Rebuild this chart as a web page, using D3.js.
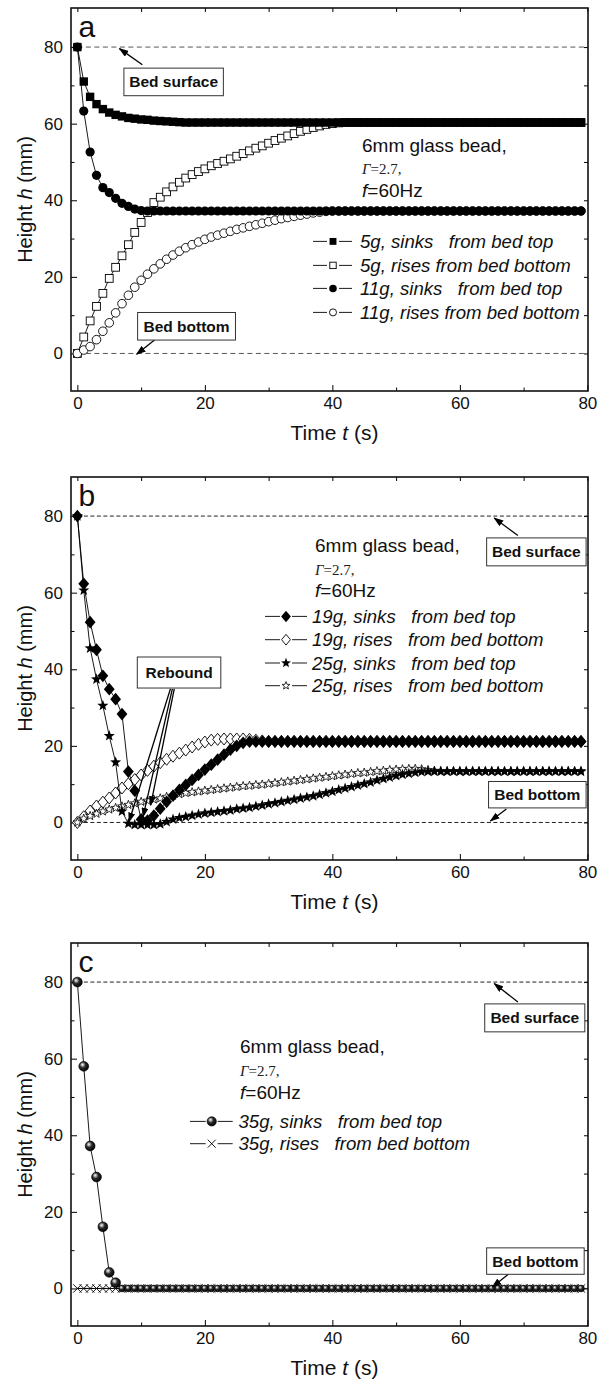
<!DOCTYPE html>
<html>
<head>
<meta charset="utf-8">
<script src="https://cdn.jsdelivr.net/npm/d3@7/dist/d3.min.js"></script>
<style>
html, body { margin: 0; padding: 0; background: #fff; }
svg { display: block; font-family: "Liberation Sans", Arial, sans-serif; }
</style>
</head>
<body>
<script>
// sampling times (s), one reading per second
var seconds = [
    0, 1, 2, 3, 4, 5, 6, 7, 8, 9,
    10, 11, 12, 13, 14, 15, 16, 17, 18, 19,
    20, 21, 22, 23, 24, 25, 26, 27, 28, 29,
    30, 31, 32, 33, 34, 35, 36, 37, 38, 39,
    40, 41, 42, 43, 44, 45, 46, 47, 48, 49,
    50, 51, 52, 53, 54, 55, 56, 57, 58, 59,
    60, 61, 62, 63, 64, 65, 66, 67, 68, 69,
    70, 71, 72, 73, 74, 75, 76, 77, 78, 79
];

var xTicks = [0, 20, 40, 60, 80],
    xMinor = [10, 30, 50, 70],
    yTicks = [0, 20, 40, 60, 80],
    yMinor = [10, 30, 50, 70];

// panel a
var a5gSinks = [
    80, 71, 67, 65.1, 63.8, 62.9, 62.3, 61.9, 61.5, 61.3,
    61.1, 61.0, 60.8, 60.7, 60.6, 60.5, 60.4, 60.3, 60.3, 60.3,
    60.3, 60.3, 60.3, 60.3, 60.3, 60.3, 60.3, 60.3, 60.3, 60.3,
    60.3, 60.3, 60.3, 60.3, 60.3, 60.3, 60.3, 60.3, 60.3, 60.3,
    60.3, 60.3, 60.3, 60.3, 60.3, 60.3, 60.3, 60.3, 60.3, 60.3,
    60.3, 60.3, 60.3, 60.3, 60.3, 60.3, 60.3, 60.3, 60.3, 60.3,
    60.3, 60.3, 60.3, 60.3, 60.3, 60.3, 60.3, 60.3, 60.3, 60.3,
    60.3, 60.3, 60.3, 60.3, 60.3, 60.3, 60.3, 60.3, 60.3, 60.3
];
var a5gRises = [
    0, 4.3, 8.5, 12.3, 15.7, 19.6, 22.5, 25.5, 28.4, 31.6,
    34.2, 36.8, 39.4, 40.8, 42.2, 43.5, 44.7, 45.8, 46.7, 47.5,
    48.2, 49.0, 49.6, 50.2, 50.8, 51.5, 52.2, 52.9, 53.6, 54.2,
    54.9, 55.6, 56.2, 56.8, 57.4, 58.0, 58.5, 59.0, 59.4, 59.8,
    60.0, 60.2, 60.3, 60.3, 60.3, 60.3, 60.3, 60.3, 60.3, 60.3,
    60.3, 60.3, 60.3, 60.3, 60.3, 60.3, 60.3, 60.3, 60.3, 60.3,
    60.3, 60.3, 60.3, 60.3, 60.3, 60.3, 60.3, 60.3, 60.3, 60.3,
    60.3, 60.3, 60.3, 60.3, 60.3, 60.3, 60.3, 60.3, 60.3, 60.3
];
var a11gSinks = [
    80, 63.3, 52.6, 46.5, 43.3, 42.0, 40.5, 39.2, 38.4, 37.7,
    37.3, 37.2, 37.2, 37.2, 37.2, 37.2, 37.2, 37.2, 37.2, 37.2,
    37.2, 37.2, 37.2, 37.2, 37.2, 37.2, 37.2, 37.2, 37.2, 37.2,
    37.2, 37.2, 37.2, 37.2, 37.2, 37.2, 37.2, 37.2, 37.2, 37.2,
    37.2, 37.2, 37.2, 37.2, 37.2, 37.2, 37.2, 37.2, 37.2, 37.2,
    37.2, 37.2, 37.2, 37.2, 37.2, 37.2, 37.2, 37.2, 37.2, 37.2,
    37.2, 37.2, 37.2, 37.2, 37.2, 37.2, 37.2, 37.2, 37.2, 37.2,
    37.2, 37.2, 37.2, 37.2, 37.2, 37.2, 37.2, 37.2, 37.2, 37.2
];
var a11gRises = [
    0, 0.9, 1.8, 3.6, 5.8, 8.0, 10.6, 13.0, 15.2, 17.3,
    19.1, 20.7, 22.1, 23.4, 24.6, 25.7, 26.7, 27.6, 28.4, 29.1,
    29.8, 30.4, 30.9, 31.4, 31.9, 32.4, 32.8, 33.2, 33.6, 34.0,
    34.4, 34.8, 35.2, 35.5, 35.8, 36.1, 36.4, 36.7, 36.9, 37.1,
    37.2, 37.2, 37.2, 37.2, 37.2, 37.2, 37.2, 37.2, 37.2, 37.2,
    37.2, 37.2, 37.2, 37.2, 37.2, 37.2, 37.2, 37.2, 37.2, 37.2,
    37.2, 37.2, 37.2, 37.2, 37.2, 37.2, 37.2, 37.2, 37.2, 37.2,
    37.2, 37.2, 37.2, 37.2, 37.2, 37.2, 37.2, 37.2, 37.2, 37.2
];

// panel b
var b19gSinks = [
    80, 62.3, 52.3, 45.1, 38.3, 34.8, 32.2, 28.3, 13.3, 8.3,
    0.8, 0.5, 1.8, 3.6, 5.4, 7.0, 8.5, 9.8, 11.1, 12.4,
    13.8, 15.1, 16.4, 17.7, 19.0, 20.0, 20.8, 21.1, 21.1, 21.1,
    21.1, 21.1, 21.1, 21.1, 21.1, 21.1, 21.1, 21.1, 21.1, 21.1,
    21.1, 21.1, 21.1, 21.1, 21.1, 21.1, 21.1, 21.1, 21.1, 21.1,
    21.1, 21.1, 21.1, 21.1, 21.1, 21.1, 21.1, 21.1, 21.1, 21.1,
    21.1, 21.1, 21.1, 21.1, 21.1, 21.1, 21.1, 21.1, 21.1, 21.1,
    21.1, 21.1, 21.1, 21.1, 21.1, 21.1, 21.1, 21.1, 21.1, 21.1
];
var b19gRises = [
    0, 1.5, 3.0, 4.3, 5.3, 6.4, 7.7, 9.0, 10.1, 11.2,
    12.4, 13.6, 14.7, 15.6, 16.5, 17.3, 18.1, 18.9, 19.7, 20.4,
    21.0, 21.5, 21.7, 21.8, 21.8, 21.8, 21.8, 21.7, 21.5, 21.3,
    21.2, 21.2, 21.2, 21.2, 21.2, 21.2, 21.2, 21.2, 21.2, 21.2,
    21.2, 21.2, 21.2, 21.2, 21.2, 21.2, 21.2, 21.2, 21.2, 21.2,
    21.2, 21.2, 21.2, 21.2, 21.2, 21.2, 21.2, 21.2, 21.2, 21.2,
    21.2, 21.2, 21.2, 21.2, 21.2, 21.2, 21.2, 21.2, 21.2, 21.2,
    21.2, 21.2, 21.2, 21.2, 21.2, 21.2, 21.2, 21.2, 21.2, 21.2
];
var b25gSinks = [
    80, 60.6, 45.5, 37.4, 30.5, 22.6, 15.7, 2.9, -0.3, -0.6,
    -0.6, -0.6, -0.6, -0.4, 0.2, 0.8, 1.2, 1.5, 1.8, 2.1,
    2.4, 2.6, 2.8, 3.0, 3.2, 3.5, 3.7, 3.9, 4.2, 4.5,
    4.8, 5.1, 5.4, 5.7, 6.0, 6.3, 6.6, 6.9, 7.3, 7.7,
    8.1, 8.5, 8.9, 9.3, 9.7, 10.1, 10.5, 11.0, 11.4, 11.8,
    12.2, 12.5, 12.8, 13.0, 13.2, 13.3, 13.3, 13.3, 13.3, 13.3,
    13.3, 13.3, 13.3, 13.3, 13.3, 13.3, 13.3, 13.3, 13.3, 13.3,
    13.3, 13.3, 13.3, 13.3, 13.3, 13.3, 13.3, 13.3, 13.3, 13.3
];
var b25gRises = [
    0, 1.0, 1.7, 2.3, 2.9, 3.4, 3.8, 4.2, 4.6, 5.0,
    5.4, 5.7, 6.0, 6.3, 6.7, 7.0, 7.4, 7.7, 7.9, 8.1,
    8.3, 8.5, 8.7, 8.9, 9.1, 9.3, 9.5, 9.6, 9.8, 9.9,
    10.1, 10.3, 10.5, 10.7, 10.9, 11.1, 11.3, 11.5, 11.7, 11.9,
    12.1, 12.3, 12.5, 12.7, 12.9, 13.0, 13.2, 13.4, 13.5, 13.7,
    13.8, 13.9, 14.0, 14.0, 13.9, 13.7, 13.5, 13.4, 13.4, 13.4,
    13.4, 13.4, 13.4, 13.4, 13.4, 13.4, 13.4, 13.4, 13.4, 13.4,
    13.4, 13.4, 13.4, 13.4, 13.4, 13.4, 13.4, 13.4, 13.4, 13.4
];

// panel c
var c35gSinks = [
    80, 58.0, 37.2, 29.1, 16.1, 4.2, 1.5, 0, 0, 0,
    0, 0, 0, 0, 0, 0, 0, 0, 0, 0,
    0, 0, 0, 0, 0, 0, 0, 0, 0, 0,
    0, 0, 0, 0, 0, 0, 0, 0, 0, 0,
    0, 0, 0, 0, 0, 0, 0, 0, 0, 0,
    0, 0, 0, 0, 0, 0, 0, 0, 0, 0,
    0, 0, 0, 0, 0, 0, 0, 0, 0, 0,
    0, 0, 0, 0, 0, 0, 0, 0, 0, 0
];
var c35gRises = [
    0, 0, 0, 0, 0, 0, 0, 0, 0, 0,
    0, 0, 0, 0, 0, 0, 0, 0, 0, 0,
    0, 0, 0, 0, 0, 0, 0, 0, 0, 0,
    0, 0, 0, 0, 0, 0, 0, 0, 0, 0,
    0, 0, 0, 0, 0, 0, 0, 0, 0, 0,
    0, 0, 0, 0, 0, 0, 0, 0, 0, 0,
    0, 0, 0, 0, 0, 0, 0, 0, 0, 0,
    0, 0, 0, 0, 0, 0, 0, 0, 0, 0
];

var width = 610,
    height = 1381;

var plotLeft = 71,
    plotW = 517,
    plotH = 383;

var svg = d3.select(document.body).append('svg')
    .attr('width', width)
    .attr('height', height);

var defs = svg.append('defs');

var grad = defs.append('radialGradient')
    .attr('id', 'sphere')
    .attr('cx', '42%').attr('cy', '40%').attr('r', '62%')
    .attr('fx', '36%').attr('fy', '32%');
grad.append('stop').attr('offset', '0%').attr('stop-color', '#ffffff');
grad.append('stop').attr('offset', '18%').attr('stop-color', '#b5b5b5');
grad.append('stop').attr('offset', '48%').attr('stop-color', '#2a2a2a');
grad.append('stop').attr('offset', '100%').attr('stop-color', '#000');

defs.append('marker')
    .attr('id', 'arrowhead')
    .attr('markerUnits', 'userSpaceOnUse')
    .attr('markerWidth', 10).attr('markerHeight', 7)
    .attr('refX', 9).attr('refY', 3.5)
    .attr('orient', 'auto')
    .append('path')
    .attr('d', 'M0,0L10,3.5L0,7Z')
    .attr('fill', '#000');

var x = d3.scaleLinear().domain([-1, 80.1]).range([0, plotW]);
var y = d3.scaleLinear().domain([-9.8, 90.2]).range([plotH, 0]);

function starPath(R) {
    var pts = [];
    for (var i = 0; i < 10; i++) {
        var r = i % 2 ? R * 0.42 : R;
        var a = -Math.PI / 2 + i * Math.PI / 5;
        pts.push([r * Math.cos(a), r * Math.sin(a)]);
    }
    return 'M' + pts.join('L') + 'Z';
}

function diamondPath(w, h) {
    return 'M0,' + (-h) + 'L' + w + ',0L0,' + h + 'L' + (-w) + ',0Z';
}

// draws one marker of the given kind centred on the group origin
function addMarker(g, kind, k, t) {
    k = k || 1;
    if(kind == 'sq') {
        g.append('rect').attr('x', -4.2 * k).attr('y', -4.2 * k)
            .attr('width', 8.4 * k).attr('height', 8.4 * k).attr('fill', '#000');
    } else if(kind == 'sqOpen') {
        g.append('rect').attr('x', -3.9 * k).attr('y', -3.9 * k)
            .attr('width', 7.8 * k).attr('height', 7.8 * k)
            .attr('fill', '#fff').attr('stroke', '#000').attr('stroke-width', 0.9);
    } else if(kind == 'dot') {
        g.append('circle').attr('r', 4.6 * k).attr('fill', '#000');
    } else if(kind == 'dotOpen') {
        g.append('circle').attr('r', 4.3 * k)
            .attr('fill', '#fff').attr('stroke', '#000').attr('stroke-width', 0.9);
    } else if(kind == 'dia') {
        g.append('path').attr('d', diamondPath(5.4 * k, 6.4 * k)).attr('fill', '#000');
    } else if(kind == 'diaOpen') {
        g.append('path').attr('d', diamondPath(4.9 * k, 6 * k))
            .attr('fill', '#fff').attr('stroke', '#000').attr('stroke-width', 0.9);
    } else if(kind == 'star') {
        g.append('path').attr('d', starPath(5.8 * k)).attr('fill', '#000');
    } else if(kind == 'starOpen') {
        g.append('path').attr('d', starPath(4.6 * k))
            .attr('fill', '#fff').attr('stroke', '#000').attr('stroke-width', 0.8);
    } else if(kind == 'ball') {
        var r = (t === undefined || t <= 6) ? 4.9 : 3.4;
        g.append('circle').attr('r', r * k)
            .attr('fill', 'url(#sphere)').attr('stroke', '#000').attr('stroke-width', 0.6);
    } else if(kind == 'cross') {
        var s = 4.2 * k;
        g.append('path')
            .attr('d', 'M' + (-s) + ',' + (-s) + 'L' + s + ',' + s + 'M' + (-s) + ',' + s + 'L' + s + ',' + (-s))
            .attr('stroke', '#000').attr('stroke-width', 0.9).attr('fill', 'none');
    }
}

var panels = [
    {
        top: 8, letter: 'a', dash: '5,3.5', dashColor: '#555',
        series: [
            { label: '5g, sinks\u00a0\u00a0 from bed top', vals: a5gSinks, marker: 'sq', order: 2 },
            { label: '5g, rises from bed bottom', vals: a5gRises, marker: 'sqOpen', order: 0 },
            { label: '11g, sinks\u00a0\u00a0 from bed top', vals: a11gSinks, marker: 'dot', order: 3 },
            { label: '11g, rises from bed bottom', vals: a11gRises, marker: 'dotOpen', order: 1 }
        ],
        info: { x: 291, y: [143.5, 166, 188.5] },
        legend: { x0: 242, x1: 281, mx: 262, tx: 289, rows: [233.4, 257.4, 280.4, 304.4], k: 0.82 },
        boxes: [
            { text: 'Bed surface', t0: 7.3, t1: 22.9, h0: 74.5, h1: 67.3 },
            { text: 'Bed bottom', t0: 9.45, t1: 24.8, h0: 10.7, h1: 3.5 }
        ],
        arrows: [
            { from: [10.2, 75.4], to: [6.6, 79.6] },
            { from: [12.1, 3.5], to: [9.3, -0.2] }
        ]
    },
    {
        top: 477, letter: 'b', dash: '4,2.5', dashColor: '#222',
        series: [
            { label: '19g, sinks\u00a0\u00a0 from bed top', vals: b19gSinks, marker: 'dia', order: 2 },
            { label: '19g, rises\u00a0\u00a0 from bed bottom', vals: b19gRises, marker: 'diaOpen', order: 0 },
            { label: '25g, sinks\u00a0\u00a0 from bed top', vals: b25gSinks, marker: 'star', order: 3 },
            { label: '25g, rises\u00a0\u00a0 from bed bottom', vals: b25gRises, marker: 'starOpen', order: 1 }
        ],
        info: { x: 244, y: [75, 97.7, 120.4] },
        legend: { x0: 194, x1: 236, mx: 215, tx: 241, rows: [139.4, 162.7, 186, 208.7], k: 0.9 },
        boxes: [
            { text: 'Bed surface', t0: 64.2, t1: 79.8, h0: 74.3, h1: 67.0 },
            { text: 'Bed bottom', t0: 64.5, t1: 79.8, h0: 10.7, h1: 3.8 },
            { text: 'Rebound', t0: 9.4, t1: 22.5, h0: 43.2, h1: 35.1 }
        ],
        arrows: [
            { from: [69.1, 74.9], to: [65.4, 79.5] },
            { from: [67.3, 3.5], to: [64.8, 0.4] },
            { from: [14.6, 34.9], to: [8.1, 0.2] },
            { from: [14.9, 34.9], to: [10.3, 1.5] },
            { from: [15.2, 34.9], to: [11.5, 4.5] }
        ]
    },
    {
        top: 943, letter: 'c', dash: '4,2.5', dashColor: '#222',
        series: [
            { label: '35g, sinks\u00a0\u00a0 from bed top', vals: c35gSinks, marker: 'ball', order: 1 },
            { label: '35g, rises\u00a0\u00a0 from bed bottom', vals: c35gRises, marker: 'cross', order: 0 }
        ],
        info: { x: 169, y: [110, 133.4, 156] },
        legend: { x0: 119, x1: 161.7, mx: 140.7, tx: 167.5, rows: [178.4, 200.7], k: 0.95 },
        boxes: [
            { text: 'Bed surface', t0: 63.9, t1: 79.6, h0: 74.3, h1: 67.0 },
            { text: 'Bed bottom', t0: 64.2, t1: 79.5, h0: 10.6, h1: 3.7 }
        ],
        arrows: [
            { from: [69.1, 74.8], to: [65.4, 79.6] },
            { from: [67.6, 3.7], to: [65.1, 0.4] }
        ]
    }
];

var line = d3.line()
    .x(function(d) { return x(d.t); })
    .y(function(d) { return y(d.h); });

function styleAxis(g) {
    g.select('.domain').remove();
    g.selectAll('.tick line').attr('stroke', '#000').attr('stroke-width', 1);
    g.selectAll('.tick text')
        .attr('fill', '#111')
        .style('font-size', '17px')
        .style('font-family', '"Liberation Sans", Arial, sans-serif');
}

function drawPanel(p) {
    var g = svg.append('g')
        .attr('transform', 'translate(' + plotLeft + ',' + p.top + ')');

    // axes, ticks pointing inwards on all four sides
    g.append('g').attr('transform', 'translate(0,' + plotH + ')')
        .call(d3.axisBottom(x).tickValues(xTicks).tickSizeInner(-6).tickSizeOuter(0).tickPadding(6))
        .call(styleAxis);
    g.append('g').attr('transform', 'translate(0,' + plotH + ')')
        .call(d3.axisBottom(x).tickValues(xMinor).tickSizeInner(-3.5).tickSizeOuter(0).tickFormat(''))
        .call(styleAxis);
    g.append('g')
        .call(d3.axisLeft(y).tickValues(yTicks).tickSizeInner(-6).tickSizeOuter(0).tickPadding(8))
        .call(styleAxis);
    g.append('g')
        .call(d3.axisLeft(y).tickValues(yMinor).tickSizeInner(-3.5).tickSizeOuter(0).tickFormat(''))
        .call(styleAxis);
    g.append('g')
        .call(d3.axisTop(x).tickValues(xTicks.concat(xMinor)).tickSizeInner(-4).tickSizeOuter(0).tickFormat(''))
        .call(styleAxis);
    g.append('g').attr('transform', 'translate(' + plotW + ',0)')
        .call(d3.axisRight(y).tickValues(yTicks.concat(yMinor)).tickSizeInner(-4).tickSizeOuter(0).tickFormat(''))
        .call(styleAxis);

    // bed surface / bed bottom reference lines
    [80, 0].forEach(function(level) {
        g.append('line')
            .attr('x1', x(0)).attr('x2', x(80.1))
            .attr('y1', y(level)).attr('y2', y(level))
            .attr('stroke', p.dashColor).attr('stroke-width', 1)
            .attr('stroke-dasharray', p.dash);
    });

    // series, drawn in their layering order
    var ordered = p.series.slice().sort(function(a, b) { return a.order - b.order; });
    ordered.forEach(function(s) {
        var pts = s.vals.map(function(v, i) { return { t: seconds[i], h: v }; });
        g.append('path')
            .datum(pts)
            .attr('d', line)
            .attr('fill', 'none')
            .attr('stroke', '#000')
            .attr('stroke-width', 0.9);
        g.append('g').selectAll('g')
            .data(pts)
            .enter().append('g')
                .attr('transform', function(d) { return 'translate(' + x(d.t) + ',' + y(d.h) + ')'; })
                .each(function(d) { addMarker(d3.select(this), s.marker, 1, d.t); });
    });

    // frame
    g.append('rect')
        .attr('width', plotW).attr('height', plotH)
        .attr('fill', 'none').attr('stroke', '#111').attr('stroke-width', 1.6);

    // panel letter
    g.append('text')
        .attr('x', 7.5).attr('y', 28.5)
        .style('font-size', '30px')
        .attr('fill', '#111')
        .text(p.letter);

    // conditions text
    g.append('text')
        .attr('x', p.info.x).attr('y', p.info.y[0])
        .style('font-size', '19px').attr('fill', '#111')
        .text('6mm glass bead,');
    var gam = g.append('text')
        .attr('x', p.info.x).attr('y', p.info.y[1])
        .style('font-size', '15px')
        .style('font-family', '"Liberation Serif", "Times New Roman", serif')
        .attr('fill', '#222');
    gam.append('tspan').style('font-style', 'italic').text('\u0393');
    gam.append('tspan').text('=2.7,');
    var fr = g.append('text')
        .attr('x', p.info.x).attr('y', p.info.y[2])
        .style('font-size', '19px').attr('fill', '#111');
    fr.append('tspan').style('font-style', 'italic').text('f');
    fr.append('tspan').text('=60Hz');

    // legend: short line, gap, marker, gap, short line, label
    var lg = p.legend;
    var item = g.selectAll('.item')
        .data(p.series)
        .enter().append('g')
            .attr('class', 'item')
            .attr('transform', function(d, i) { return 'translate(0,' + lg.rows[i] + ')'; });
    item.append('line')
        .attr('x1', lg.x0).attr('x2', lg.mx - 6)
        .attr('stroke', '#000').attr('stroke-width', 0.9);
    item.append('line')
        .attr('x1', lg.mx + 6).attr('x2', lg.x1)
        .attr('stroke', '#000').attr('stroke-width', 0.9);
    item.append('g')
        .attr('transform', 'translate(' + lg.mx + ',0)')
        .each(function(d) { addMarker(d3.select(this), d.marker, lg.k); });
    item.append('text')
        .attr('x', lg.tx).attr('y', 6.5)
        .style('font-size', '18.6px')
        .style('font-style', 'italic')
        .attr('fill', '#111')
        .text(function(d) { return d.label; });

    // annotation arrows and boxes
    p.arrows.forEach(function(a) {
        g.append('line')
            .attr('x1', x(a.from[0])).attr('y1', y(a.from[1]))
            .attr('x2', x(a.to[0])).attr('y2', y(a.to[1]))
            .attr('stroke', '#000').attr('stroke-width', 1.3)
            .attr('marker-end', 'url(#arrowhead)');
    });
    p.boxes.forEach(function(b) {
        var bx = x(b.t0), by = y(b.h0),
            bw = x(b.t1) - x(b.t0), bh = y(b.h1) - y(b.h0);
        g.append('rect')
            .attr('x', bx).attr('y', by).attr('width', bw).attr('height', bh)
            .attr('fill', '#fff').attr('stroke', '#333').attr('stroke-width', 1);
        g.append('text')
            .attr('x', bx + bw / 2).attr('y', by + bh / 2)
            .attr('dy', '0.36em')
            .attr('text-anchor', 'middle')
            .style('font-size', '15.5px').style('font-weight', 'bold')
            .attr('fill', '#111')
            .text(b.text);
    });

    // axis titles
    var yt = g.append('text')
        .attr('transform', 'translate(' + (32 - plotLeft) + ',' + (plotH / 2) + ') rotate(-90)')
        .attr('text-anchor', 'middle')
        .style('font-size', '20px').attr('fill', '#111');
    yt.append('tspan').text('Height ');
    yt.append('tspan').style('font-style', 'italic').text('h');
    yt.append('tspan').text(' (mm)');

    var xt = g.append('text')
        .attr('x', plotW / 2 + 5).attr('y', plotH + 49)
        .attr('text-anchor', 'middle')
        .style('font-size', '21px').attr('fill', '#111');
    xt.append('tspan').text('Time ');
    xt.append('tspan').style('font-style', 'italic').text('t');
    xt.append('tspan').text(' (s)');
}

panels.forEach(drawPanel);
</script>
</body>
</html>
